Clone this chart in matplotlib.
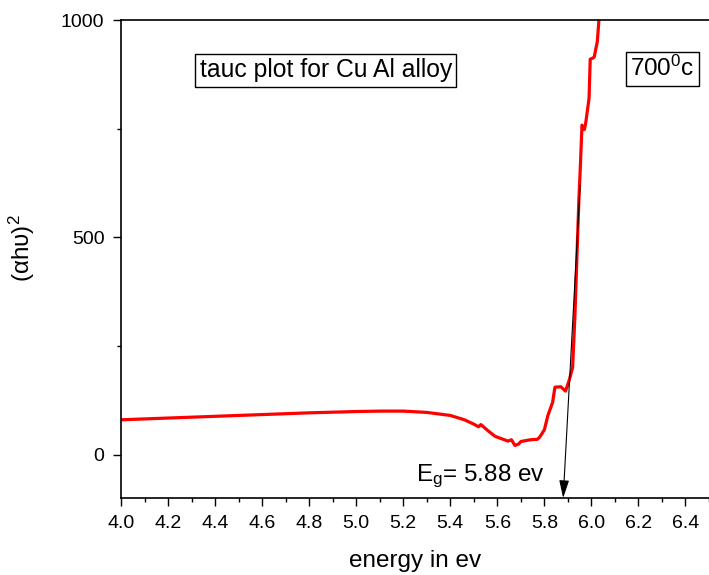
import matplotlib
matplotlib.use("Agg")
import matplotlib.pyplot as plt

# tauc plot data
energy = [4.00, 4.20, 4.40, 4.60, 4.80, 5.00, 5.10, 5.20, 5.30, 5.40,
          5.46, 5.50, 5.52, 5.53, 5.56, 5.59, 5.62, 5.645, 5.66, 5.675,
          5.69, 5.70, 5.72, 5.74, 5.77, 5.78, 5.80, 5.815, 5.825, 5.835,
          5.845, 5.87, 5.89, 5.905, 5.92, 5.93, 5.94, 5.947, 5.952, 5.96,
          5.97, 5.975, 5.99, 5.995, 6.005, 6.012, 6.025, 6.032, 6.035]
tauc = [80, 84, 88, 92, 96, 99, 100, 100, 97, 90,
        80, 70, 64, 69, 55, 42, 36, 31, 34, 21,
        24, 30, 32, 34, 35, 40, 57, 90, 105, 120,
        155, 156, 146, 170, 200, 320, 480, 590, 650, 758,
        748, 760, 820, 910, 912, 915, 950, 1000, 1020]

eg_value = 5.88
arrow_start = (5.952, 620)
x_ticks = [4.0, 4.2, 4.4, 4.6, 4.8, 5.0, 5.2, 5.4, 5.6, 5.8, 6.0, 6.2, 6.4]
y_ticks = [0, 500, 1000]

plt.rcParams["font.family"] = ["Liberation Sans", "DejaVu Sans"]
plt.rcParams["mathtext.fontset"] = "custom"
plt.rcParams["mathtext.rm"] = "Liberation Sans"
plt.rcParams["mathtext.it"] = "Liberation Sans:italic"

fig = plt.figure(figsize=(7.09, 5.75), dpi=100)
ax = fig.add_axes([0.1707, 0.1339, 0.8293, 0.8313])

ax.plot(energy, tauc, color="#ff0000", lw=2.3)

ax.annotate("", xy=(eg_value, -100), xytext=arrow_start,
            arrowprops=dict(arrowstyle="-|>,head_length=0.9,head_width=0.25",
                            color="black", lw=0.8, mutation_scale=12,
                            shrinkA=0, shrinkB=0))

ax.text(5.255, -62, r"E$_\mathregular{g}$= 5.88 ev", fontsize=17.5, va="baseline")
ax.text(4.334, 884, "tauc plot for Cu Al alloy", fontsize=17.8, va="center",
        bbox=dict(boxstyle="square,pad=0.18", fc="white", ec="black", lw=1))
ax.text(6.165, 888, r"700$^\mathregular{0}$c", fontsize=17.5, va="center",
        bbox=dict(boxstyle="square,pad=0.18", fc="white", ec="black", lw=1))

ax.set_xlim(4.0, 6.489)
ax.set_ylim(-100, 1000)
ax.set_xticks(x_ticks)
ax.set_xticklabels([f"{t:.1f}" for t in x_ticks])
ax.set_xticks([t + 0.1 for t in x_ticks], minor=True)
ax.set_yticks(y_ticks)
ax.set_yticks([250, 750], minor=True)
ax.tick_params(axis="both", which="major", labelsize=14, length=6, width=1, pad=6)
ax.tick_params(axis="both", which="minor", length=3, width=1)
ax.spines["right"].set_visible(False)
for s in ("left", "bottom", "top"):
    ax.spines[s].set_linewidth(1.2)

ax.set_xlabel("energy in ev", fontsize=17.5, labelpad=13)
ax.set_ylabel(r"(αhυ)$^\mathregular{2}$", fontsize=17.5)
ax.yaxis.set_label_coords(-0.143, 0.523)

fig.savefig("out.png", dpi=100)
